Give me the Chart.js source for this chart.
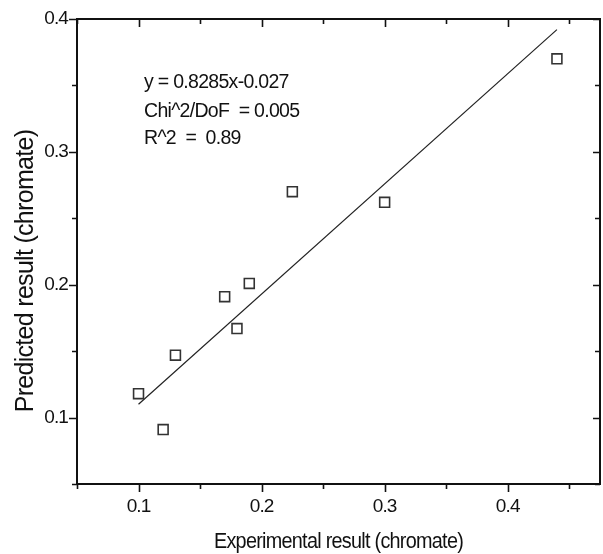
<!DOCTYPE html>
<html>
<head>
<meta charset="utf-8">
<script src="https://cdn.jsdelivr.net/npm/chart.js@4/dist/chart.umd.min.js"></script>
<style>
  html, body { margin: 0; padding: 0; background: #fff; }
  #wrap { width: 603px; height: 554px; }
</style>
</head>
<body>
<div id="wrap"><canvas id="c" width="603" height="554"></canvas></div>
<script>
// Measured chromate values
const experimental = [0.10, 0.12, 0.13, 0.17, 0.18, 0.19, 0.225, 0.30, 0.44];
const predicted    = [0.118, 0.091, 0.147, 0.191, 0.167, 0.201, 0.270, 0.262, 0.370];

// End points of the linear fit line
const fitX = [0.10, 0.44];
const fitY = [0.110, 0.392];

// Axis ticks
const xMajorTicks = [0.1, 0.2, 0.3, 0.4];
const xTickLabels = ['0.1', '0.2', '0.3', '0.4'];
const xMinorTicks = [0.05, 0.15, 0.25, 0.35, 0.45];
const yMajorTicks = [0.1, 0.2, 0.3, 0.4];
const yTickLabels = ['0.1', '0.2', '0.3', '0.4'];
const yMinorTicks = [0.05, 0.15, 0.25, 0.35];

// Axis titles and fit statistics
const xTitle = 'Experimental result (chromate)';
const yTitle = 'Predicted result (chromate)';
const fitText = ['y = 0.8285x-0.027', 'Chi^2/DoF  = 0.005', 'R^2  =  0.89'];

const FONT = '"Liberation Sans", Arial, sans-serif';
const INK = '#111';

const tightText = {
  id: 'tightText',
  beforeLayout(chart) { chart.ctx.letterSpacing = '-0.9px'; },
  beforeDraw(chart) { chart.ctx.letterSpacing = '-0.9px'; }
};

// Frame with outward ticks on bottom/left, inward ticks on top/right, plus the text
const frameTicks = {
  id: 'frameTicks',
  afterDraw(chart) {
    const { ctx, chartArea: a, scales: { x, y } } = chart;
    ctx.save();
    ctx.strokeStyle = INK;
    ctx.lineWidth = 2;
    ctx.strokeRect(a.left, a.top, a.right - a.left, a.bottom - a.top);
    ctx.lineWidth = 1.6;
    ctx.beginPath();
    const xt = xMajorTicks.map(v => [v, 8, 8]).concat(xMinorTicks.map(v => [v, 5, 5]));
    xt.forEach(([v, out, inn]) => {
      const px = Math.round(x.getPixelForValue(v)) + 0.5;
      ctx.moveTo(px, a.bottom); ctx.lineTo(px, a.bottom + out);
      ctx.moveTo(px, a.top); ctx.lineTo(px, a.top + inn);
    });
    const yt = yMajorTicks.map(v => [v, 8, 7]).concat(yMinorTicks.map(v => [v, 5, 5]));
    yt.forEach(([v, out, inn]) => {
      const py = Math.round(y.getPixelForValue(v)) + 0.5;
      ctx.moveTo(a.left, py); ctx.lineTo(a.left - out, py);
      ctx.moveTo(a.right, py); ctx.lineTo(a.right - inn, py);
    });
    ctx.stroke();

    ctx.fillStyle = INK;
    ctx.textBaseline = 'alphabetic';

    // fit statistics
    ctx.font = '19.5px ' + FONT;
    ctx.letterSpacing = '-0.7px';
    ctx.textAlign = 'left';
    const tx = a.left + 67;
    const baselines = [a.top + 69, a.top + 98, a.top + 125];
    fitText.forEach((t, i) => ctx.fillText(t, tx, baselines[i]));

    // x axis title (slightly condensed)
    ctx.save();
    ctx.font = '22px ' + FONT;
    ctx.letterSpacing = '-0.8px';
    ctx.textAlign = 'center';
    ctx.translate((a.left + a.right) / 2, a.bottom + 64);
    ctx.scale(0.9, 1);
    ctx.fillText(xTitle, 0, 0);
    ctx.restore();

    // y axis title
    ctx.save();
    ctx.font = '25px ' + FONT;
    ctx.letterSpacing = '-0.7px';
    ctx.textAlign = 'center';
    ctx.translate(a.left - 44, (a.top + a.bottom) / 2 + 19.5);
    ctx.rotate(-Math.PI / 2);
    ctx.fillText(yTitle, 0, 0);
    ctx.restore();

    ctx.restore();
  }
};

new Chart(document.getElementById('c'), {
  type: 'scatter',
  data: {
    datasets: [
      {
        label: 'Data',
        data: experimental.map((v, i) => ({ x: v, y: predicted[i] })),
        pointStyle: 'rect',
        pointRadius: 7,
        pointHoverRadius: 7,
        backgroundColor: 'rgba(255,255,255,0)',
        borderColor: '#333',
        borderWidth: 1.6,
        order: 1
      },
      {
        label: 'Fit',
        type: 'line',
        data: fitX.map((v, i) => ({ x: v, y: fitY[i] })),
        showLine: true,
        pointRadius: 0,
        borderColor: '#222',
        borderWidth: 1.2,
        fill: false,
        order: 2
      }
    ]
  },
  options: {
    responsive: false,
    animation: false,
    devicePixelRatio: 1,
    layout: { autoPadding: false, padding: { top: 19, right: 3, left: 0, bottom: 0 } },
    plugins: { legend: { display: false }, tooltip: { enabled: false } },
    scales: {
      x: {
        type: 'linear',
        min: 0.05,
        max: 0.475,
        grid: { display: false, drawTicks: true, tickLength: 8 },
        border: { display: false },
        afterBuildTicks(s) { s.ticks = xMajorTicks.map(v => ({ value: v })); },
        afterFit(s) { s.height = 70; },
        ticks: {
          autoSkip: false,
          maxRotation: 0,
          padding: 3,
          color: INK,
          font: { family: FONT, size: 19 },
          callback: (v, i) => xTickLabels[i]
        },
        title: { display: false }
      },
      y: {
        type: 'linear',
        min: 0.05,
        max: 0.4,
        grid: { display: false, drawTicks: true, tickLength: 8 },
        border: { display: false },
        afterBuildTicks(s) { s.ticks = yMajorTicks.map(v => ({ value: v })); },
        afterFit(s) { s.width = 77; },
        ticks: {
          autoSkip: false,
          padding: 1,
          color: INK,
          font: { family: FONT, size: 19 },
          callback: (v, i) => yTickLabels[i]
        },
        title: { display: false }
      }
    }
  },
  plugins: [tightText, frameTicks]
});
</script>
</body>
</html>
